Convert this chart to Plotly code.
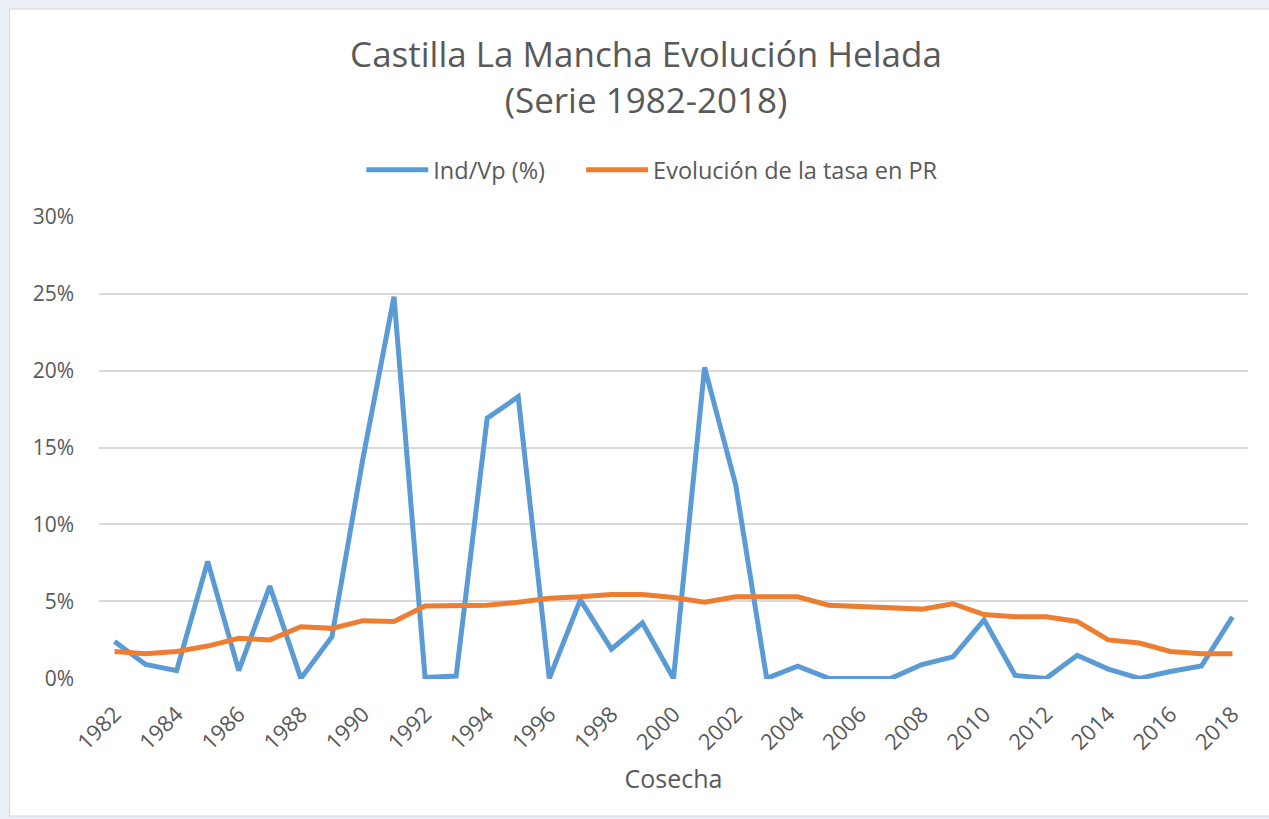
import plotly.graph_objects as go

years = list(range(1982, 2019))
ind_vp = [2.4, 0.9, 0.5, 7.6, 0.5, 6.0, 0.0, 2.7, 14.3, 24.8,
          0.05, 0.15, 16.9, 18.3, 0.0, 5.1, 1.9, 3.6, 0.0, 20.2,
          12.6, 0.0, 0.8, 0.0, 0.0, 0.0, 0.9, 1.4, 3.8, 0.2,
          0.0, 1.5, 0.6, 0.0, 0.45, 0.8, 4.0]
tasa_pr = [1.75, 1.6, 1.75, 2.1, 2.6, 2.5, 3.35, 3.25, 3.75, 3.7,
           4.7, 4.7, 4.75, 4.95, 5.2, 5.3, 5.45, 5.45, 5.25, 4.95,
           5.3, 5.3, 5.3, 4.75, 4.65, 4.55, 4.5, 4.85, 4.15, 4.0,
           4.0, 3.7, 2.5, 2.3, 1.75, 1.6, 1.6]
tick_years = list(range(1982, 2019, 2))
y_ticks = [0, 5, 10, 15, 20, 25, 30]

ind_frac = [v / 100 for v in ind_vp]
tasa_frac = [v / 100 for v in tasa_pr]

FONT = "Open Sans"
GRAY = "#595959"

fig = go.Figure()
fig.add_trace(go.Scatter(x=years, y=ind_frac, mode="lines", name="Ind/Vp (%)",
                         line=dict(color="#5B9BD5", width=5), legend="legend"))
fig.add_trace(go.Scatter(x=years, y=tasa_frac, mode="lines", name="Evolución de la tasa en PR",
                         line=dict(color="#ED7D31", width=5), legend="legend2"))

L, R, T, B = 98.5, 20.5, 216, 140
W, H = 1269, 819
pw, ph = W - L - R, H - T - B

def px_x(p):
    return (p - L) / pw

def px_y(p):
    return (H - B - p) / ph

leg_common = dict(orientation="h", xanchor="left", y=px_y(170), yanchor="middle",
                  font=dict(size=23.5, color=GRAY), bgcolor="rgba(0,0,0,0)",
                  borderwidth=0, itemwidth=62)

fig.update_layout(
    width=W, height=H,
    margin=dict(l=L, r=R, t=T, b=B),
    paper_bgcolor="#eaeff5",
    plot_bgcolor="white",
    font=dict(family=FONT, color=GRAY),
    title=dict(text="Castilla La Mancha Evolución Helada<br>(Serie 1982-2018)",
               x=646 / W, xanchor="center", y=1 - 67 / H, yanchor="middle",
               font=dict(size=35, color=GRAY, family=FONT)),
    legend=dict(x=px_x(361), **leg_common),
    legend2=dict(x=px_x(581), **leg_common),
    xaxis=dict(range=[1981.5, 2018.5], tickmode="array", tickvals=tick_years,
               ticktext=[str(y) for y in tick_years], tickangle=-45,
               tickfont=dict(size=22, color=GRAY), showgrid=False, zeroline=False,
               showline=False, ticks="", ticklabelstandoff=17,
               title=dict(text="Cosecha", font=dict(size=25, color=GRAY), standoff=15)),
    yaxis=dict(range=[-0.0004, 0.3004], tickmode="array", tickvals=[v / 100 for v in y_ticks],
               ticktext=[f"{v}%" for v in y_ticks], tickfont=dict(size=21, color=GRAY),
               showgrid=True, gridcolor="#d9d9d9", gridwidth=1.5, zeroline=False,
               showline=False, ticks="", ticklabelstandoff=24),
    shapes=[dict(type="rect", xref="paper", yref="paper", layer="below",
                 x0=px_x(9), x1=px_x(1275), y0=px_y(816), y1=px_y(9),
                 fillcolor="white", line=dict(color="#d4d4d4", width=1))],
    showlegend=True,
)

fig.write_html("out.html", config={"displayModeBar": False},
               post_script="document.body.style.margin='0';document.body.style.background='#eaeff5';")
